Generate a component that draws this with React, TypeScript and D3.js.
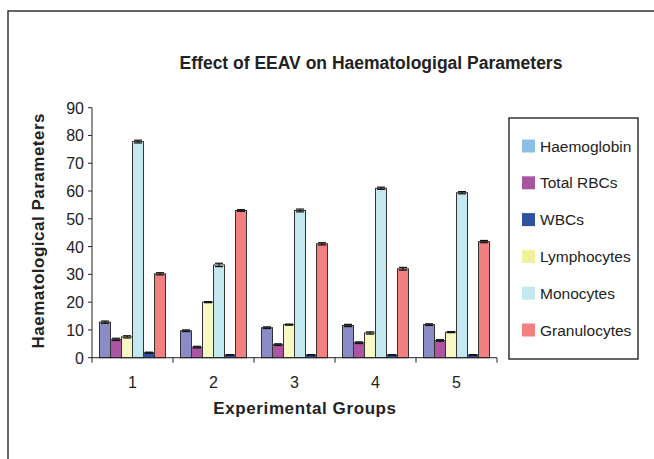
import React from "react";
import * as d3 from "d3";

const groups = ["1", "2", "3", "4", "5"];
const seriesNames = ["Haemoglobin", "Total RBCs", "WBCs", "Lymphocytes", "Monocytes", "Granulocytes"];
// bar order within each group as drawn
const barOrder = ["Haemoglobin", "Total RBCs", "Lymphocytes", "Monocytes", "WBCs", "Granulocytes"];
const haemoglobin = [12.8, 9.7, 10.8, 11.6, 11.9];
const totalRBCs = [6.6, 3.8, 4.7, 5.4, 6.2];
const wbcs = [1.8, 1.0, 1.0, 1.0, 1.0];
const lymphocytes = [7.5, 20.0, 11.9, 8.9, 9.2];
const monocytes = [77.8, 33.4, 53.0, 61.0, 59.4];
const granulocytes = [30.2, 53.0, 41.0, 32.0, 41.8];
const errHaemoglobin = [0.4, 0.3, 0.3, 0.4, 0.3];
const errTotalRBCs = [0.4, 0.3, 0.3, 0.3, 0.3];
const errWbcs = [0.2, 0.1, 0.1, 0.1, 0.1];
const errLymphocytes = [0.4, 0.2, 0.2, 0.4, 0.2];
const errMonocytes = [0.5, 0.6, 0.5, 0.4, 0.4];
const errGranulocytes = [0.4, 0.3, 0.4, 0.5, 0.4];
const yTicks = [0, 10, 20, 30, 40, 50, 60, 70, 80, 90];

const values: Record<string, number[]> = {
  Haemoglobin: haemoglobin,
  "Total RBCs": totalRBCs,
  WBCs: wbcs,
  Lymphocytes: lymphocytes,
  Monocytes: monocytes,
  Granulocytes: granulocytes,
};
const errors: Record<string, number[]> = {
  Haemoglobin: errHaemoglobin,
  "Total RBCs": errTotalRBCs,
  WBCs: errWbcs,
  Lymphocytes: errLymphocytes,
  Monocytes: errMonocytes,
  Granulocytes: errGranulocytes,
};
const barColors: Record<string, string> = {
  Haemoglobin: "#8a8cc6",
  "Total RBCs": "#ad55a3",
  WBCs: "#2f4f9e",
  Lymphocytes: "#f8f8c4",
  Monocytes: "#c4e8f0",
  Granulocytes: "#f28080",
};
const legendColors: Record<string, string> = {
  Haemoglobin: "#8cbfe8",
  "Total RBCs": "#a855a0",
  WBCs: "#3050a0",
  Lymphocytes: "#f2f09a",
  Monocytes: "#c4e8f0",
  Granulocytes: "#f28080",
};

export default function App() {
  const left = 92, right = 497, top = 107.7, bottom = 357.7;
  const font = "Arial, 'Liberation Sans', sans-serif";
  const x0 = d3.scaleBand<string>().domain(groups).range([left, right]).paddingInner(0).paddingOuter(0);
  const bw = 11;
  const x1 = d3.scaleBand<string>().domain(barOrder).range([0, bw * barOrder.length]);
  const y = d3.scaleLinear().domain([0, 90]).range([bottom, top]);
  const groupOffset = (x0.bandwidth() - bw * barOrder.length) / 2;

  return (
    <svg width={654} height={459} style={{ position: "absolute", left: 0, top: 0, background: "#fff" }} fontFamily={font}>
      <rect x={8} y={11} width={720} height={520} fill="#fff" stroke="#333" strokeWidth={1.5} />
      <text x={371} y={69} textAnchor="middle" fontSize={17.5} fontWeight="bold" fill="#222">
        Effect of EEAV on Haematologigal Parameters
      </text>
      {/* bars */}
      {groups.map((g, gi) => (
        <g key={g} transform={`translate(${(x0(g) as number) + groupOffset},0)`}>
          {barOrder.map((s) => {
            const v = values[s][gi];
            const e = errors[s][gi];
            const bx = x1(s) as number;
            const cx = bx + bw / 2;
            return (
              <g key={s}>
                <rect x={bx} y={y(v)} width={bw} height={bottom - y(v)} fill={barColors[s]} stroke="#333" strokeWidth={1} />
                <line x1={cx} x2={cx} y1={y(v + e)} y2={y(v - e)} stroke="#111" strokeWidth={1} />
                <line x1={cx - 4} x2={cx + 4} y1={y(v + e)} y2={y(v + e)} stroke="#111" strokeWidth={1.2} />
                <line x1={cx - 4} x2={cx + 4} y1={y(v - e)} y2={y(v - e)} stroke="#111" strokeWidth={1.2} />
              </g>
            );
          })}
        </g>
      ))}
      {/* y axis */}
      <line x1={left} x2={left} y1={top} y2={bottom} stroke="#222" strokeWidth={1} />
      {yTicks.map((t) => (
        <g key={t}>
          <line x1={left - 4} x2={left} y1={y(t)} y2={y(t)} stroke="#222" strokeWidth={1} />
          <text x={left - 8} y={y(t) + 6} textAnchor="end" fontSize={16} fill="#222">{t}</text>
        </g>
      ))}
      {/* x axis */}
      <line x1={left} x2={right} y1={bottom} y2={bottom} stroke="#222" strokeWidth={1} />
      {groups.map((g) => (
        <g key={g}>
          <line x1={x0(g) as number} x2={x0(g) as number} y1={bottom} y2={bottom + 5} stroke="#222" />
          <text x={(x0(g) as number) + x0.bandwidth() / 2} y={bottom + 30} textAnchor="middle" fontSize={16} fill="#222">{g}</text>
        </g>
      ))}
      <line x1={right} x2={right} y1={bottom} y2={bottom + 5} stroke="#222" />
      <text x={305} y={414} textAnchor="middle" fontSize={17} fontWeight="bold" fill="#222" letterSpacing={0.6}>
        Experimental Groups
      </text>
      <text transform={`translate(44,${(top + bottom) / 2 - 2}) rotate(-90)`} textAnchor="middle" fontSize={17} fontWeight="bold" fill="#222" letterSpacing={0.5}>
        Haematological Parameters
      </text>
      {/* legend */}
      <rect x={509} y={118} width={129} height={241} fill="#fff" stroke="#333" strokeWidth={1.5} />
      {seriesNames.map((s, i) => {
        const cy = 146 + i * 36.8;
        return (
          <g key={s}>
            <rect x={522} y={cy - 6.5} width={13} height={13} fill={legendColors[s]} />
            <text x={540} y={cy + 5.5} fontSize={15.5} fill="#222">{s}</text>
          </g>
        );
      })}
    </svg>
  );
}
